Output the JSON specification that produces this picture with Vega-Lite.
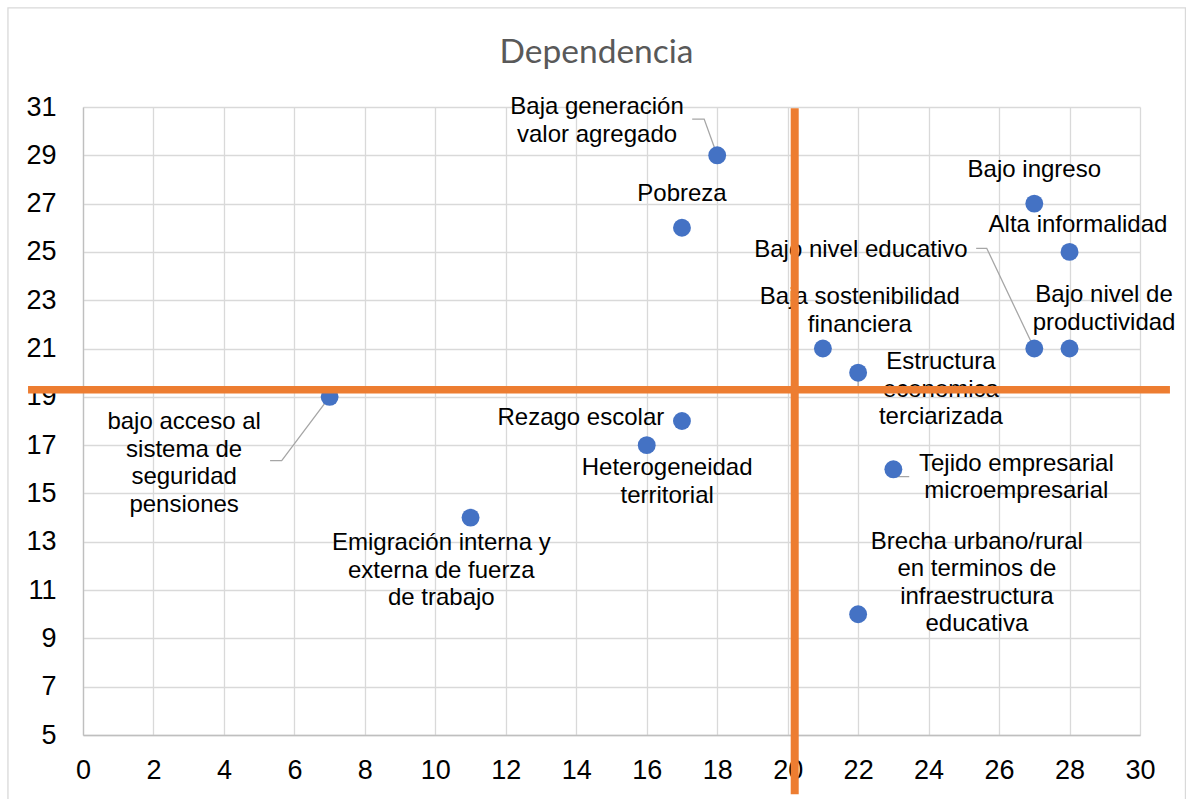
{
  "$schema": "https://vega.github.io/schema/vega-lite/v6.json",
  "width": 1057,
  "height": 628,
  "autosize": "none",
  "padding": {"left": 83, "top": 107, "right": 46, "bottom": 64},
  "background": "white",
  "title": {
    "text": "Dependencia",
    "font": "Lato",
    "fontSize": 33.5,
    "fontWeight": "normal",
    "color": "#595959",
    "anchor": "middle",
    "frame": "group",
    "dx": -15,
    "offset": -63
  },
  "config": {
    "view": {"stroke": null},
    "axis": {
      "grid": true,
      "gridColor": "#d9d9d9",
      "gridWidth": 1.3,
      "domainColor": "#bfbfbf",
      "domainWidth": 1.3,
      "ticks": false,
      "labelFont": "Liberation Sans",
      "labelFontSize": 27,
      "labelColor": "#000000",
      "labelFlush": false,
      "labelOverlap": false,
      "labelBound": false,
      "title": null
    }
  },
  "datasets": {
    "points": [
      {"label": "Baja generación\nvalor agregado", "x": 18, "y": 29, "lx": 14.59, "ly": 30.99},
      {"label": "Pobreza", "x": 17, "y": 26, "lx": 17.0, "ly": 27.40},
      {"label": "Bajo ingreso", "x": 27, "y": 27, "lx": 27.0, "ly": 28.39},
      {"label": "Alta informalidad", "x": 28, "y": 25, "lx": 28.24, "ly": 26.12},
      {"label": "Bajo nivel educativo", "x": 27, "y": 21, "lx": 22.08, "ly": 25.06},
      {"label": "Bajo nivel de\nproductividad", "x": 28, "y": 21, "lx": 28.98, "ly": 23.21},
      {"label": "Baja sostenibilidad\nfinanciera", "x": 21, "y": 21, "lx": 22.05, "ly": 23.13},
      {"label": "Estructura\neconomica\nterciarizada", "x": 22, "y": 20, "lx": 24.35, "ly": 20.43},
      {"label": "bajo acceso al\nsistema de\nseguridad\npensiones", "x": 7, "y": 19, "lx": 2.87, "ly": 17.95},
      {"label": "Rezago escolar", "x": 17, "y": 18, "lx": 14.13, "ly": 18.13},
      {"label": "Heterogeneidad\nterritorial", "x": 16, "y": 17, "lx": 16.58, "ly": 16.05},
      {"label": "Tejido empresarial\nmicroempresarial", "x": 23, "y": 16, "lx": 26.49, "ly": 16.24},
      {"label": "Emigración interna y\nexterna de fuerza\nde trabajo", "x": 11, "y": 14, "lx": 10.17, "ly": 12.94},
      {"label": "Brecha urbano/rural\nen terminos de\ninfraestructura\neducativa", "x": 22, "y": 10, "lx": 25.37, "ly": 13.00}
    ],
    "leaders": [
      {"leader": "A", "ord": 1, "x": 17.29, "y": 30.50},
      {"leader": "A", "ord": 2, "x": 17.63, "y": 30.50},
      {"leader": "A", "ord": 3, "x": 18, "y": 29},
      {"leader": "B", "ord": 1, "x": 25.35, "y": 25.15},
      {"leader": "B", "ord": 2, "x": 25.65, "y": 25.15},
      {"leader": "B", "ord": 3, "x": 27, "y": 21},
      {"leader": "C", "ord": 1, "x": 5.31, "y": 16.36},
      {"leader": "C", "ord": 2, "x": 5.64, "y": 16.36},
      {"leader": "C", "ord": 3, "x": 7, "y": 19},
      {"leader": "D", "ord": 1, "x": 23, "y": 16},
      {"leader": "D", "ord": 2, "x": 23.10, "y": 15.70},
      {"leader": "D", "ord": 3, "x": 23.45, "y": 15.70},
      {"leader": "E", "ord": 1, "x": 22, "y": 20},
      {"leader": "E", "ord": 2, "x": 22, "y": 19.42}
    ],
    "vref": [{"x": 20.2, "y": 30.95, "y2": 2.55}],
    "href": [{"y": 19.29, "x": -1.56, "x2": 30.85}],
    "frame": [{"x": -2.13, "x2": 31.29, "y": 35.1, "y2": 2.0}]
  },
  "layer": [
    {
      "data": {"name": "frame"},
      "mark": {"type": "rect", "fill": null, "stroke": "#d9d9d9", "strokeWidth": 1.3},
      "encoding": {
        "x": {"field": "x", "type": "quantitative", "scale": {"domain": [0, 30], "nice": false, "zero": false}, "axis": {"values": [0,2,4,6,8,10,12,14,16,18,20,22,24,26,28,30], "labelPadding": 22}},
        "x2": {"field": "x2"},
        "y": {"field": "y", "type": "quantitative", "scale": {"domain": [5, 31], "nice": false, "zero": false}, "axis": {"values": [5,7,9,11,13,15,17,19,21,23,25,27,29,31], "labelPadding": 27}},
        "y2": {"field": "y2"}
      }
    },
    {
      "data": {"name": "leaders"},
      "mark": {"type": "line", "color": "#a6a6a6", "strokeWidth": 1.3},
      "encoding": {
        "x": {"field": "x", "type": "quantitative"},
        "y": {"field": "y", "type": "quantitative"},
        "detail": {"field": "leader"},
        "order": {"field": "ord"}
      }
    },
    {
      "data": {"name": "points"},
      "mark": {"type": "circle", "size": 320, "color": "#4472C4", "opacity": 1},
      "encoding": {
        "x": {"field": "x", "type": "quantitative"},
        "y": {"field": "y", "type": "quantitative"}
      }
    },
    {
      "data": {"name": "points"},
      "mark": {"type": "text", "lineBreak": "\n", "lineHeight": 27.5, "align": "center", "baseline": "middle", "font": "Liberation Sans", "fontSize": 24, "color": "#000000"},
      "encoding": {
        "x": {"field": "lx", "type": "quantitative"},
        "y": {"field": "ly", "type": "quantitative"},
        "text": {"field": "label"}
      }
    },
    {
      "data": {"name": "href"},
      "mark": {"type": "rule", "color": "#ED7D31", "strokeWidth": 7.5},
      "encoding": {
        "y": {"field": "y", "type": "quantitative"},
        "x": {"field": "x", "type": "quantitative"},
        "x2": {"field": "x2"}
      }
    },
    {
      "data": {"name": "vref"},
      "mark": {"type": "rule", "color": "#ED7D31", "strokeWidth": 8},
      "encoding": {
        "x": {"field": "x", "type": "quantitative"},
        "y": {"field": "y", "type": "quantitative"},
        "y2": {"field": "y2"}
      }
    }
  ]
}
